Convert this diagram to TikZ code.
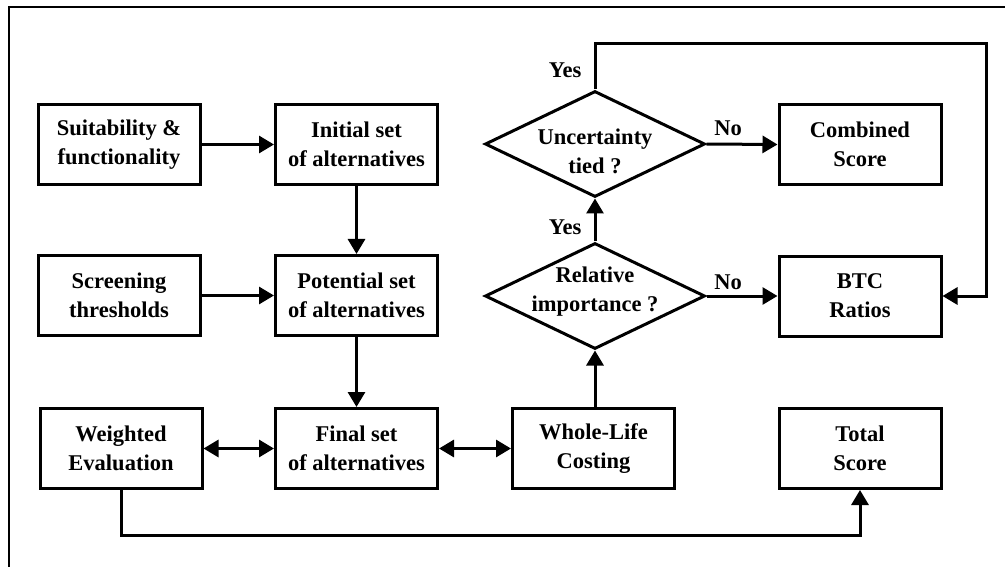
\documentclass[tikz,border=0pt]{standalone}
\usepackage{fontspec}
\setmainfont{Liberation Serif}
\usetikzlibrary{arrows.meta,shapes.geometric}
\tikzset{
  fnt/.style={font=\fontsize{22.5}{29}\selectfont\bfseries},
  box/.style={fnt, draw, line width=3pt, minimum width=162pt, minimum height=80pt, inner sep=0pt, align=center},
  dia/.style={draw, diamond, line width=3pt, minimum width=220pt, minimum height=106pt, inner sep=0pt},
  dtxt/.style={fnt, align=center, inner sep=0pt},
  lbl/.style={fnt, inner sep=0pt},
  tip/.tip={Triangle[length=15pt,width=17pt]},
  arr/.style={line width=3pt, -tip},
  darr/.style={line width=3pt, tip-tip},
  frame/.style={line width=2pt}
}
\begin{document}
\begin{tikzpicture}[x=1pt,y=-1pt]
\useasboundingbox (0,0) rectangle (1005,567);
\coordinate (f1) at (9,567);
\coordinate (f2) at (9,7);
\coordinate (f3) at (1005,7);
\draw[frame] (f1) -- (f2) -- (f3);

\node[box] (suit) at (119,144.5) {Suitability \&\\functionality};
\node[box] (init) at (356.5,144.5) {Initial set\\of alternatives};
\node[box] (scr) at (119,295.5) {Screening\\thresholds};
\node[box] (pot) at (356.5,295.5) {Potential set\\of alternatives};
\node[box] (wei) at (121,448.5) {Weighted\\Evaluation};
\node[box] (fin) at (356.5,448.5) {Final set\\of alternatives};
\node[box] (whl) at (593.5,448.5) {Whole-Life\\Costing};
\node[box] (tot) at (860,448.5) {Total\\Score};
\node[box] (btc) at (860,296) {BTC\\Ratios};
\node[box] (cmb) at (860,144.5) {Combined\\Score};

\node[dia] (unc) at (595,144) {};
\node[dtxt] (unct) at (595,151) {Uncertainty\\tied ?};
\node[dia] (rel) at (595,296) {};
\node[dtxt] (relt) at (595,292) {Relative\\importance ?};

\node[lbl] (yes1) at (565,70) {Yes};
\node[lbl] (yes2) at (565,227) {Yes};
\node[lbl] (no1) at (728,128) {No};
\node[lbl] (no2) at (728,282) {No};

\draw[arr] (suit) -- (init);
\draw[arr] (scr) -- (pot);
\draw[arr] (init) -- (pot);
\draw[arr] (pot) -- (fin);
\draw[darr] (wei) -- (fin);
\draw[darr] (fin) -- (whl);
\draw[arr] (rel.south |- whl.north) -- (rel.south);
\draw[arr] (rel.north) -- (unc.south);
\draw[arr] (unc.east) -- (cmb.west);
\draw[arr] (rel.east) -- (btc.west);
\coordinate (c1) at (986,44);
\draw[arr] (unc.north) |- (c1) |- (btc.east);
\coordinate (c2) at (490,535);
\draw[arr] (wei.south) |- (c2) -| (tot.south);
\end{tikzpicture}
\end{document}
